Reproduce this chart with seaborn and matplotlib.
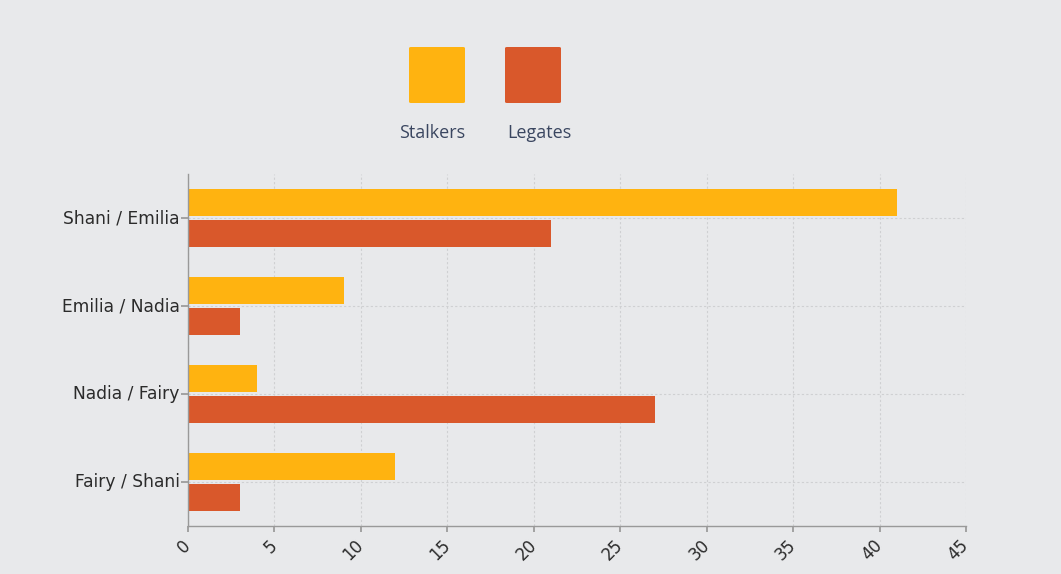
import matplotlib
matplotlib.use("Agg")
import matplotlib.pyplot as plt
import matplotlib.transforms as mtransforms
import seaborn as sns
import pandas as pd
from matplotlib.patches import FancyBboxPatch

categories = ["Shani / Emilia", "Emilia / Nadia", "Nadia / Fairy", "Fairy / Shani"]
series_names = ["Stalkers", "Legates"]
stalkers = [41, 9, 4, 12]
legates = [21, 3, 27, 3]
x_ticks = [0, 5, 10, 15, 20, 25, 30, 35, 40, 45]
colors = ["#FFB310", "#D9582B"]
bg = "#E8E9EB"

df = pd.DataFrame({
    "pair": categories * 2,
    "series": [series_names[0]] * 4 + [series_names[1]] * 4,
    "value": stalkers + legates,
})

sns.set_theme(style="white")
plt.rcParams['font.family'] = ['DejaVu Sans']

fig = plt.figure(figsize=(10.61, 5.74), dpi=100, facecolor=bg)
ax = fig.add_axes([188/1061, 1-526/574, (966-188)/1061, (526-174)/574])
ax.set_facecolor(bg)

sns.barplot(data=df, y="pair", x="value", hue="series", order=categories,
            hue_order=series_names, palette=colors, orient="h",
            width=0.7, gap=0.12, ax=ax, legend=False, saturation=1,
            linewidth=0, edgecolor="none")

ax.set_xlim(0, 45)
ax.set_ylim(3.5, -0.5)
ax.set_xticks(x_ticks)
ax.set_xticklabels([str(t) for t in x_ticks], rotation=45, ha="right", va="center",
                   rotation_mode="anchor", fontsize=12, color="#2b2b2b")
ax.tick_params(axis="y", left=True, labelsize=12.3, labelcolor="#2b2b2b", length=5,
               color="#999999", pad=1)
ax.tick_params(axis="x", bottom=True, length=4, color="#999999", pad=8)
ax.set_xlabel("")
ax.set_ylabel("")
ax.grid(True, linestyle=(0, (2, 2)), color="#cfd0d2", linewidth=0.8)
ax.set_axisbelow(True)
for s in ["top", "right"]:
    ax.spines[s].set_visible(False)
for s in ["left", "bottom"]:
    ax.spines[s].set_color("#999999")
    ax.spines[s].set_linewidth(1)

offset = mtransforms.ScaledTranslation(0, 2/100, fig.dpi_scale_trans)
for lbl in ax.get_yticklabels():
    lbl.set_transform(lbl.get_transform() + offset)

# custom legend above
leg_x = [409, 505]
label_x = [432, 539]
for i, name in enumerate(series_names):
    x0 = leg_x[i] / 1061
    y0 = 1 - 103 / 574
    fig.add_artist(FancyBboxPatch((x0, y0), 56/1061, 56/574,
                                  boxstyle="round,pad=0,rounding_size=0.002",
                                  transform=fig.transFigure, facecolor=colors[i],
                                  edgecolor="none"))
    fig.text(label_x[i] / 1061, 1 - 133 / 574, name, ha="center", va="center",
             fontsize=13, color="#3a4660", family=["Open Sans", "DejaVu Sans"])

fig.savefig("out.png", dpi=100, facecolor=bg)
